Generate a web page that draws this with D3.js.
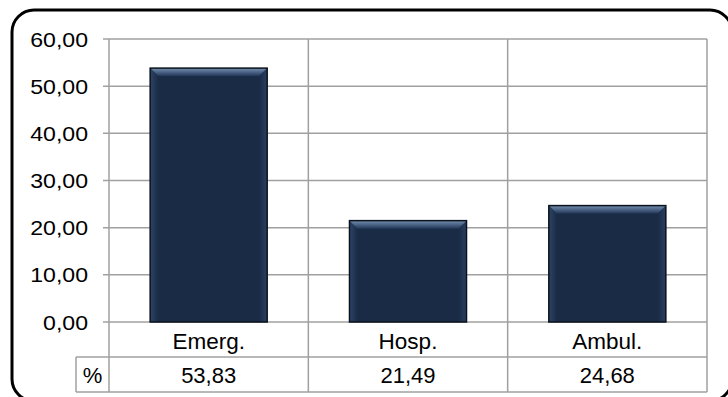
<!DOCTYPE html>
<html><head><meta charset="utf-8">
<script src="https://cdn.jsdelivr.net/npm/d3@7"></script>
<style>html,body{margin:0;padding:0;background:#fff;}svg{display:block;}</style>
</head><body>
<script>
const categories = ["Emerg.", "Hosp.", "Ambul."];
const values = [53.83, 21.49, 24.68];
const tickValues = [0, 10, 20, 30, 40, 50, 60];
const rowLabel = "%";

const W = 728, H = 397;
const svg = d3.select("body").append("svg").attr("width", W).attr("height", H);
const fmt = v => d3.format(".2f")(v).replace(".", ",");

const defs = svg.append("defs");
const gTop = defs.append("linearGradient").attr("id","bevTop").attr("x1",0).attr("y1",0).attr("x2",0).attr("y2",1);
gTop.append("stop").attr("offset","0%").attr("stop-color","#7590b0");
gTop.append("stop").attr("offset","100%").attr("stop-color","#22375a");
const gL = defs.append("linearGradient").attr("id","bevL").attr("x1",0).attr("y1",0).attr("x2",1).attr("y2",0);
gL.append("stop").attr("offset","0%").attr("stop-color","#2e4568");
gL.append("stop").attr("offset","100%").attr("stop-color","#1a2b45");
const gR = defs.append("linearGradient").attr("id","bevR").attr("x1",1).attr("y1",0).attr("x2",0).attr("y2",0);
gR.append("stop").attr("offset","0%").attr("stop-color","#2a4063");
gR.append("stop").attr("offset","100%").attr("stop-color","#1a2b45");

// frame
svg.append("rect").attr("x",12).attr("y",10).attr("width",720).attr("height",391)
  .attr("rx",22).attr("fill","#fff").attr("stroke","#000").attr("stroke-width",3);

const pLeft = 109, pRight = 707, pTop = 39, pBottom = 322;
const row1 = 357, row2 = 392;
const x = d3.scaleBand().domain(categories).range([pLeft, pRight]).padding(0);
const y = d3.scaleLinear().domain([0, 60]).range([pBottom, pTop]);
const grid = "#a0a0a0";
const font = "'Liberation Sans', Arial, sans-serif";

// horizontal grid + ticks
svg.append("g").selectAll("line").data(tickValues).join("line")
  .attr("x1", pLeft - 6).attr("x2", pRight).attr("y1", d => y(d)).attr("y2", d => y(d))
  .attr("stroke", grid).attr("stroke-width", 1.5);
// vertical lines
svg.append("g").selectAll("line").data(categories).join("line")
  .attr("x1", d => x(d) + x.bandwidth()).attr("x2", d => x(d) + x.bandwidth())
  .attr("y1", pTop).attr("y2", row2)
  .attr("stroke", grid).attr("stroke-width", 1.5);
svg.append("line").attr("x1", pLeft).attr("x2", pLeft).attr("y1", pTop).attr("y2", row2)
  .attr("stroke", grid).attr("stroke-width", 1.5);
// table lines
svg.append("line").attr("x1", 76).attr("x2", pRight).attr("y1", row1).attr("y2", row1).attr("stroke", grid).attr("stroke-width", 1.5);
svg.append("line").attr("x1", 76).attr("x2", pRight).attr("y1", row2).attr("y2", row2).attr("stroke", grid).attr("stroke-width", 1.5);
svg.append("line").attr("x1", 76).attr("x2", 76).attr("y1", row1).attr("y2", row2).attr("stroke", grid).attr("stroke-width", 1.5);

// tick labels
svg.append("g").selectAll("text").data(tickValues).join("text")
  .attr("transform", d => `translate(88,${y(d)}) scale(1.1,1)`)
  .attr("text-anchor", "end").attr("dy", "0.36em")
  .attr("font-family", font).attr("font-size", 21).attr("fill", "#000")
  .text(d => fmt(d));

// bars
const bw = x.bandwidth() * 0.587;
const bars = svg.append("g").selectAll("g").data(categories).join("g");
bars.each(function(c, i) {
  const g = d3.select(this);
  const x0 = x(c) + (x.bandwidth() - bw) / 2, x1 = x0 + bw;
  const y0 = y(values[i]), y1 = y(0);
  const b = 8;
  g.append("rect").attr("x", x0).attr("y", y0).attr("width", bw).attr("height", y1 - y0)
    .attr("fill", "#1a2b45");
  g.append("polygon").attr("points", `${x0},${y0} ${x0+b},${y0+b} ${x0+b},${y1} ${x0},${y1}`).attr("fill","url(#bevL)");
  g.append("polygon").attr("points", `${x1},${y0} ${x1-b},${y0+b} ${x1-b},${y1} ${x1},${y1}`).attr("fill","url(#bevR)");
  g.append("polygon").attr("points", `${x0},${y0} ${x1},${y0} ${x1-b},${y0+b} ${x0+b},${y0+b}`).attr("fill","url(#bevTop)");
  g.append("rect").attr("x", x0).attr("y", y0).attr("width", bw).attr("height", y1 - y0)
    .attr("fill", "none").attr("stroke", "#0b121d").attr("stroke-width", 1.5);
});

// category labels
svg.append("g").selectAll("text").data(categories).join("text")
  .attr("x", d => x(d) + x.bandwidth() / 2).attr("y", (pBottom + row1) / 2 + 1).attr("dy", "0.36em")
  .attr("text-anchor", "middle").attr("font-family", font).attr("font-size", 22.5).attr("fill", "#000")
  .text(d => d);
// values row
svg.append("g").selectAll("text").data(categories).join("text")
  .attr("x", d => x(d) + x.bandwidth() / 2).attr("y", (row1 + row2) / 2 + 0.5).attr("dy", "0.36em")
  .attr("text-anchor", "middle").attr("font-family", font).attr("font-size", 22).attr("fill", "#000")
  .text((d, i) => fmt(values[i]));
svg.append("text").attr("x", 92.5).attr("y", (row1 + row2) / 2 + 0.5).attr("dy", "0.36em")
  .attr("text-anchor", "middle").attr("font-family", font).attr("font-size", 22).attr("fill", "#000")
  .text(rowLabel);
</script>
</body></html>
